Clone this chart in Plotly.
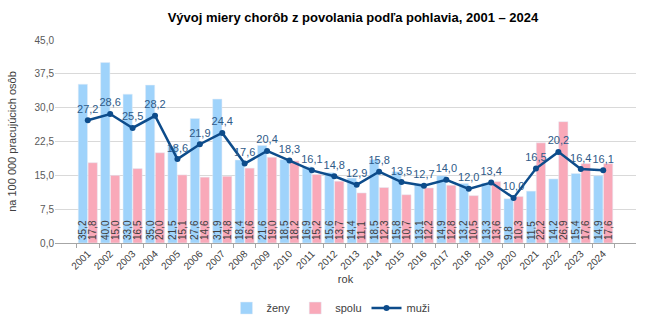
import plotly.graph_objects as go

years = [str(y) for y in range(2001, 2025)]
zeny = [35.2, 40.0, 33.0, 35.0, 21.5, 27.6, 31.9, 18.4, 21.6, 18.5, 16.9, 15.6,
        14.4, 18.5, 15.8, 13.1, 14.9, 13.2, 13.3, 9.8, 11.5, 14.2, 15.4, 14.9]
spolu = [17.8, 15.0, 16.5, 20.0, 15.1, 14.6, 14.8, 16.6, 19.0, 18.2, 15.2, 13.7,
         11.1, 12.3, 10.7, 12.2, 12.8, 10.5, 13.6, 10.3, 22.2, 26.9, 17.6, 17.6]
muzi = [27.2, 28.6, 25.5, 28.2, 18.6, 21.9, 24.4, 17.6, 20.4, 18.3, 16.1, 14.8,
        12.9, 15.8, 13.5, 12.7, 14.0, 12.0, 13.4, 10.0, 16.5, 20.2, 16.4, 16.1]
y_ticks = [0, 7.5, 15, 22.5, 30, 37.5, 45]

FONT = "Liberation Sans, Arial, sans-serif"

fig = go.Figure()
fig.add_trace(go.Bar(
    x=years, y=zeny, name="ženy", marker_color="#9FD3FB",
    texttemplate="%{y:.1f}", textposition="inside", insidetextanchor="start",
    textangle=-90, textfont=dict(size=10, color="#404040", family=FONT),
))
fig.add_trace(go.Bar(
    x=years, y=spolu, name="spolu", marker_color="#F9A9B9",
    texttemplate="%{y:.1f}", textposition="inside", insidetextanchor="start",
    textangle=-90, textfont=dict(size=10, color="#404040", family=FONT),
))
fig.add_trace(go.Scatter(
    x=years, y=muzi, name="muži", mode="lines+markers+text",
    line=dict(color="#0D4C8B", width=2.5), marker=dict(size=6, color="#0D4C8B"),
    texttemplate="%{y:.1f}", textposition="top center",
    textfont=dict(size=11, color="#2E5A88", family=FONT),
))

fig.update_layout(
    width=650, height=326,
    margin=dict(l=55, r=14, t=40, b=83, autoexpand=False),
    paper_bgcolor="white", plot_bgcolor="white",
    separators=", ",
    font=dict(family=FONT, size=10, color="#404040"),
    uniformtext=dict(minsize=10, mode="show"),
    title=dict(text="<b>Vývoj miery chorôb z povolania podľa pohlavia, 2001 – 2024</b>",
               x=0.543, xanchor="center", y=0.945, yanchor="middle",
               font=dict(size=13, color="#000000", family=FONT)),
    barmode="group", bargap=0.12, bargroupgap=0.06,
    showlegend=True,
    legend=dict(orientation="h", x=0.475, xanchor="center",
                yref="container", y=0.055, yanchor="middle",
                font=dict(size=11, color="#404040"), itemwidth=30,
                traceorder="normal"),
    xaxis=dict(title=dict(text="rok", font=dict(size=11, color="#404040"), standoff=4),
               automargin=False,
               tickangle=-45, ticks="outside", tickson="boundaries", ticklen=4,
               tickcolor="#A6A6A6", showline=True, linecolor="#A6A6A6",
               tickfont=dict(size=10, color="#404040")),
    yaxis=dict(title=dict(text="na 100 000 pracujúcich osôb", font=dict(size=11, color="#404040")),
               automargin=False,
               range=[0, 45], tickvals=y_ticks, tickformat=".1f",
               gridcolor="#D9D9D9", showline=False, zeroline=False,
               tickfont=dict(size=10, color="#595959")),
)

fig.write_html("out.html")
